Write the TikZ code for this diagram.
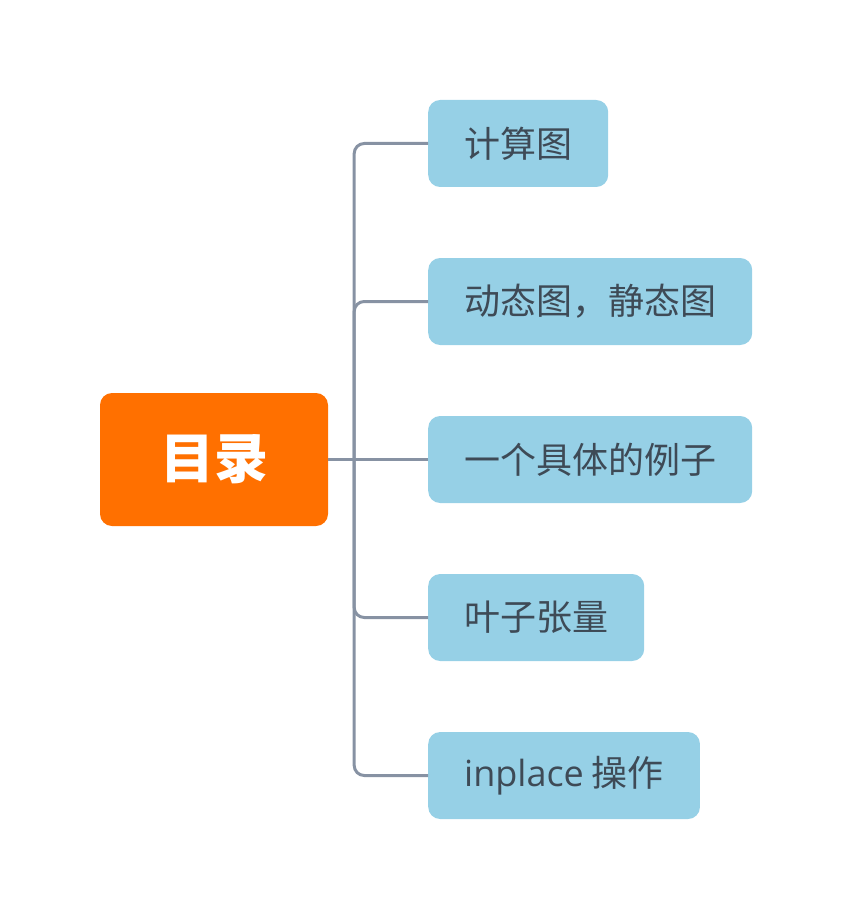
\documentclass[tikz,border=0pt]{standalone}
\usepackage{fontspec}
\setmainfont{Open Sans}
\newfontfamily\cjk{Noto Sans CJK SC}
\definecolor{rootorange}{HTML}{FF7000}
\definecolor{leafblue}{HTML}{96D0E6}
\definecolor{branchgray}{HTML}{8792A3}
\definecolor{leaftext}{HTML}{3E4A56}
\tikzset{
  rootbox/.style={fill=rootorange, text=white, rounded corners=12pt,
    minimum width=228pt, minimum height=133pt,
    font=\cjk\bfseries\fontsize{54}{62}\selectfont},
  leafbox/.style={fill=leafblue, text=leaftext, rounded corners=12pt,
    minimum height=87pt, inner xsep=36pt, anchor=west,
    font=\cjk\fontsize{36}{43}\selectfont},
  branch/.style={draw=branchgray, line width=3pt, rounded corners=10pt}
}
\begin{document}
\begin{tikzpicture}[
			x=1pt, y=-1pt,
			grow'=right,
			level 1/.style={level distance=214pt, sibling distance=158pt},
			edge from parent/.style={branch},
			edge from parent path={([xshift=26pt]\tikzparentnode.east) |- (\tikzchildnode.west)}
		]
		\useasboundingbox (0,0) rectangle (852,920);
		\node[rootbox] (root) at (214,459.5) {目录}
		child { node[leafbox] (graph) {计算图} }
		child { node[leafbox] (dynstat) {动态图，静态图} }
		child[edge from parent path={(\tikzparentnode.east) -- (\tikzchildnode.west)}] {
				node[leafbox] (example) {一个具体的例子}
			}
		child { node[leafbox] (leaf) {叶子张量} }
		child { node[leafbox] (inplace) {{\normalfont inplace} 操作} };
	\end{tikzpicture}
\end{document}
